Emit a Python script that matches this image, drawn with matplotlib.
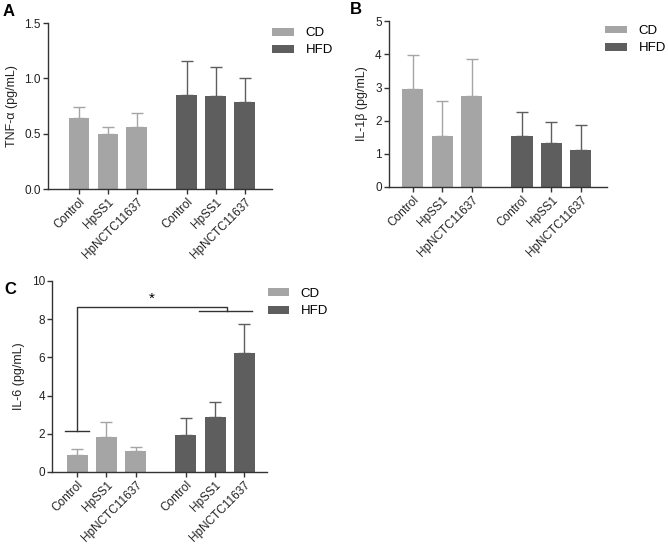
import matplotlib.pyplot as plt
import numpy as np

plt.rcParams['font.family'] = ['Liberation Sans', 'DejaVu Sans']

groups = ["Control", "HpSS1", "HpNCTC11637"]
tnf_cd = [0.64, 0.50, 0.56]
tnf_cd_err = [0.10, 0.06, 0.13]
tnf_hfd = [0.85, 0.84, 0.79]
tnf_hfd_err = [0.31, 0.26, 0.21]

il1b_cd = [2.95, 1.55, 2.75]
il1b_cd_err = [1.02, 1.03, 1.10]
il1b_hfd = [1.55, 1.33, 1.13]
il1b_hfd_err = [0.72, 0.64, 0.73]

il6_cd = [0.90, 1.83, 1.12]
il6_cd_err = [0.30, 0.79, 0.18]
il6_hfd = [1.92, 2.90, 6.25]
il6_hfd_err = [0.90, 0.77, 1.48]

CD_COL = "#a5a5a5"
HFD_COL = "#5e5e5e"
pos_cd = np.array([0, 1, 2])
pos_hfd = np.array([3.72, 4.72, 5.72])


def panel(rect, cd, cd_err, hfd, hfd_err, ylim, yticks, yticklabels, ylabel, xlim,
          letter, letter_xy, leg_xy):
    ax = fig.add_axes(rect)
    for pos, vals, errs, col, lab in [(pos_cd, cd, cd_err, CD_COL, "CD"),
                                      (pos_hfd, hfd, hfd_err, HFD_COL, "HFD")]:
        ax.bar(pos, vals, width=0.72, color=col, label=lab, zorder=2)
        ax.errorbar(pos, vals, yerr=[np.zeros(3), errs], fmt="none", ecolor=col,
                    elinewidth=1.0, capsize=4.3, capthick=1.0, zorder=1)
    ax.set_ylim(*ylim)
    ax.set_xlim(*xlim)
    ax.set_yticks(yticks)
    ax.set_yticklabels(yticklabels, fontsize=8.5, color="#222222")
    ax.set_xticks(np.concatenate([pos_cd, pos_hfd]))
    ax.set_xticklabels(groups * 2, rotation=45, ha="right", rotation_mode="anchor",
                       fontsize=8.5, color="#222222")
    ax.set_ylabel(ylabel, fontsize=9, color="#222222", labelpad=5)
    for s in ["top", "right"]:
        ax.spines[s].set_visible(False)
    for s in ["left", "bottom"]:
        ax.spines[s].set_color("#333333")
        ax.spines[s].set_linewidth(1.0)
    ax.tick_params(direction="out", length=3.6, width=1.0, color="#333333", pad=1.5)
    ax.legend(loc="upper left", bbox_to_anchor=leg_xy, frameon=False, fontsize=9.5,
              handlelength=1.65, handleheight=0.55, handletextpad=0.85, labelspacing=0.4,
              borderaxespad=0, borderpad=0)
    fig.text(letter_xy[0] / 668, 1 - letter_xy[1] / 549, letter, fontsize=12,
             fontweight="bold", ha="left", va="center")
    return ax


fig = plt.figure(figsize=(6.68, 5.49), dpi=100)

panel([0.0719, 0.6557, 0.335, 0.302], tnf_cd, tnf_cd_err, tnf_hfd, tnf_hfd_err,
      (0, 1.5), [0, 0.5, 1.0, 1.5], ["0.0", "0.5", "1.0", "1.5"],
      "TNF-\u03b1 (pg/mL)", (-1.07, 6.66), "A", (3, 11), (1.003, 0.976))

panel([0.582, 0.6594, 0.326, 0.302], il1b_cd, il1b_cd_err, il1b_hfd, il1b_hfd_err,
      (0, 5), [0, 1, 2, 3, 4, 5], ["0", "1", "2", "3", "4", "5"],
      "IL-1\u03b2 (pg/mL)", (-0.82, 6.6), "B", (350, 9), (0.995, 0.976))

ax_c = panel([0.0778, 0.1403, 0.322, 0.348], il6_cd, il6_cd_err, il6_hfd, il6_hfd_err,
             (0, 10), [0, 2, 4, 6, 8, 10], ["0", "2", "4", "6", "8", "10"],
             "IL-6 (pg/mL)", (-0.86, 6.5), "C", (4, 290), (1.003, 0.963))

# significance bracket: CD Control vs HFD HpSS1/HpNCTC11637
low_y, top_y, right_y = 2.12, 8.65, 8.4
left_x = pos_cd[0]
right_mid = (pos_hfd[1] + pos_hfd[2]) / 2 - 0.1
kw = dict(color="#333333", lw=1.0, clip_on=False)
ax_c.plot([left_x - 0.4, left_x + 0.4], [low_y, low_y], **kw)
ax_c.plot([left_x, left_x, right_mid, right_mid], [low_y, top_y, top_y, right_y], **kw)
ax_c.plot([pos_hfd[1] - 0.54, pos_hfd[2] + 0.27], [right_y, right_y], **kw)
ax_c.text((left_x + right_mid) / 2, top_y + 0.05, "*", ha="center", va="bottom", fontsize=11)

fig.savefig("out.png", dpi=100)
